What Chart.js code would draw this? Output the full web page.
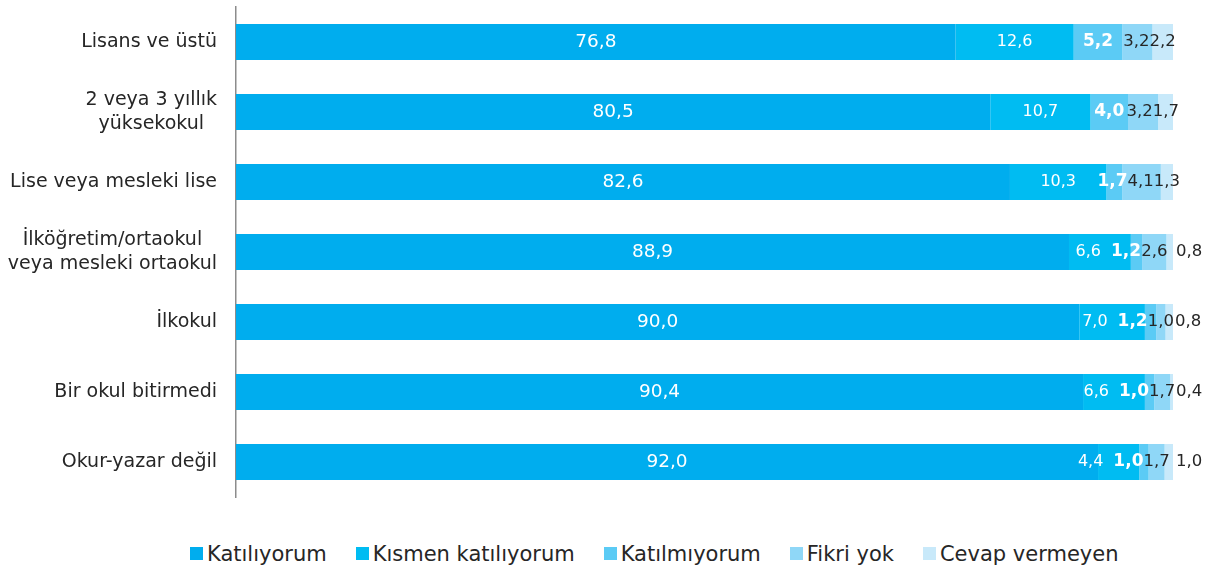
<!DOCTYPE html>
<html>
<head>
<meta charset="utf-8">
<script src="https://cdn.jsdelivr.net/npm/chart.js@4"></script>
<style>
  html, body { margin: 0; padding: 0; background: #fff; }
  #wrap { width: 1214px; height: 567px; }
  #plot { position: relative; width: 1214px; height: 510px; }
  #legend {
    display: flex; align-items: center;
    height: 57px; box-sizing: border-box; padding: 30px 0 0 190px;
    font: 21px "DejaVu Sans", Verdana, sans-serif; color: #262626; line-height: 22px;
  }
  #legend .item { display: flex; align-items: center; margin-right: 29px; white-space: nowrap; }
  #legend .box { width: 13px; height: 13px; margin-right: 4px; }
</style>
</head>
<body>
<div id="wrap">
  <div id="plot"><canvas id="chart"></canvas></div>
  <div id="legend"></div>
</div>
<script>
/* ── Data ───────────────────────────────────────────── */
const categories = [
  'Lisans ve üstü',
  ['2 veya 3 yıllık', 'yüksekokul'],
  'Lise veya mesleki lise',
  ['İlköğretim/ortaokul', 'veya mesleki ortaokul'],
  'İlkokul',
  'Bir okul bitirmedi',
  'Okur-yazar değil',
];
const seriesNames = ['Katılıyorum', 'Kısmen katılıyorum', 'Katılmıyorum', 'Fikri yok', 'Cevap vermeyen'];

const katiliyorum   = [76.8, 80.5, 82.6, 88.9, 90.0, 90.4, 92.0];
const kismen        = [12.6, 10.7, 10.3, 6.6, 7.0, 6.6, 4.4];
const katilmiyorum  = [5.2, 4.0, 1.7, 1.2, 1.2, 1.0, 1.0];
const fikriYok      = [3.2, 3.2, 4.1, 2.6, 1.0, 1.7, 1.7];
const cevapVermeyen = [2.2, 1.7, 1.3, 0.8, 0.8, 0.4, 1.0];

const allSeries = [katiliyorum, kismen, katilmiyorum, fikriYok, cevapVermeyen];

/* ── Styles ─────────────────────────────────────────── */
const FONT = '"DejaVu Sans", Verdana, sans-serif';
const COLORS = ['#00adee', '#00bcf2', '#5bcbf5', '#8fd7f7', '#c8e9fa'];
const CAT_FONT = { size: 19, lineHeight: 24, color: '#262626', gap: 19 };
// padLeft: free room kept on the left of a label when neighbours collide
const LABEL_STYLE = [
  { color: '#fff',    size: 18.5, weight: 'normal', padLeft: 0 },
  { color: '#fff',    size: 16,   weight: 'normal', padLeft: 0 },
  { color: '#fff',    size: 17,   weight: 'bold',   padLeft: 10 },
  { color: '#262626', size: 16.5, weight: 'normal', padLeft: 0 },
  { color: '#262626', size: 16.5, weight: 'normal', padLeft: 0 },
];

const fmt = v => v.toFixed(1).replace('.', ',');

/* ── Category labels ────────────────────────────────── */
// each label block sits flush right against the axis, lines centred inside it
const categoryLabels = {
  id: 'categoryLabels',
  afterDraw(chart) {
    const ctx = chart.ctx;
    const yScale = chart.scales.y;
    const right = yScale.right - CAT_FONT.gap;
    ctx.save();
    ctx.font = `${CAT_FONT.size}px ${FONT}`;
    ctx.fillStyle = CAT_FONT.color;
    ctx.textAlign = 'center';
    ctx.textBaseline = 'middle';
    chart.data.labels.forEach((lbl, i) => {
      const lines = [].concat(lbl);
      const blockW = Math.max(...lines.map(l => ctx.measureText(l).width));
      const cy = yScale.getPixelForTick(i);
      const top = cy - (lines.length - 1) * CAT_FONT.lineHeight / 2;
      lines.forEach((l, k) => ctx.fillText(l, right - blockW / 2, top + k * CAT_FONT.lineHeight));
    });
    ctx.restore();
  },
};

/* ── Segment value labels ───────────────────────────── */
// centred in each segment; tiny end segments put theirs after the bar,
// and labels that would run into the one on their right slide left
const segmentLabels = {
  id: 'segmentLabels',
  afterDatasetsDraw(chart) {
    const ctx = chart.ctx;
    const n = chart.data.datasets.length;
    ctx.save();
    ctx.textBaseline = 'middle';
    chart.data.labels.forEach((_, i) => {
      let limit = Infinity;
      for (let di = n - 1; di >= 0; di--) {
        const st = LABEL_STYLE[di];
        const bar = chart.getDatasetMeta(di).data[i];
        const { x, base, y } = bar.getProps(['x', 'base', 'y'], true);
        const txt = fmt(chart.data.datasets[di].data[i]);
        ctx.font = `${st.weight} ${st.size}px ${FONT}`;
        const tw = ctx.measureText(txt).width;
        const w = Math.abs(x - base);
        let left;
        if (di === n - 1 && w < 10) left = Math.max(x, base) + 2;
        else left = (x + base) / 2 - tw / 2;
        if (left + tw > limit) left = limit - tw;
        ctx.fillStyle = st.color;
        ctx.textAlign = 'left';
        ctx.fillText(txt, left, y);
        limit = left - st.padLeft;
      }
    });
    ctx.restore();
  },
};

const chart = new Chart(document.getElementById('chart'), {
  type: 'bar',
  data: {
    labels: categories,
    datasets: allSeries.map((d, i) => ({
      label: seriesNames[i],
      data: d,
      backgroundColor: COLORS[i],
      borderWidth: 0,
      barPercentage: 1,
      categoryPercentage: 0.515,
    })),
  },
  options: {
    indexAxis: 'y',
    responsive: true,
    maintainAspectRatio: false,
    animation: false,
    layout: { padding: { top: 7, right: 41, bottom: 13, left: 0 } },
    scales: {
      x: { stacked: true, min: 0, max: 100, display: false },
      y: {
        stacked: true,
        grid: { display: false, drawTicks: false },
        border: { display: true, color: '#8c8c8c', width: 1.5 },
        ticks: { display: false },
        afterFit: s => { s.width = 236; s.paddingTop = 0; s.paddingBottom = 0; },
      },
    },
    plugins: {
      legend: { display: false },
      tooltip: { enabled: false },
    },
  },
  plugins: [segmentLabels, categoryLabels],
});

/* ── Legend ─────────────────────────────────────────── */
document.getElementById('legend').innerHTML = chart.data.datasets.map(ds => `
  <span class="item"><span class="box" style="background:${ds.backgroundColor}"></span>${ds.label}</span>
`).join('');
</script>
</body>
</html>
